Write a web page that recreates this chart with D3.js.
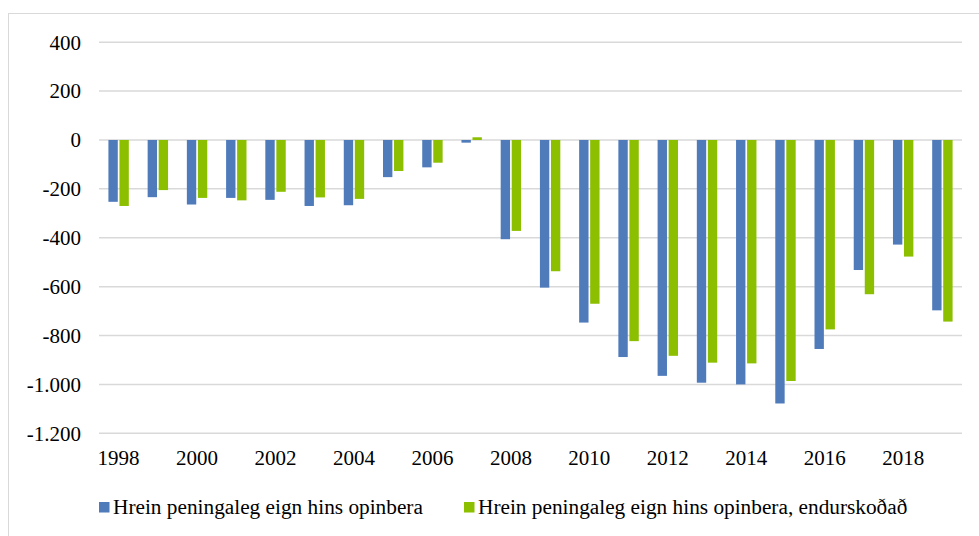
<!DOCTYPE html>
<html>
<head>
<meta charset="utf-8">
<script src="https://cdn.jsdelivr.net/npm/d3@7"></script>
<style>
  body { margin: 0; background: #fff; }
</style>
</head>
<body>
<div id="chart"></div>
<script>
// data
var years = [1998, 1999, 2000, 2001, 2002, 2003, 2004, 2005, 2006, 2007, 2008,
             2009, 2010, 2011, 2012, 2013, 2014, 2015, 2016, 2017, 2018, 2019];
var original = [-253, -234, -264, -237, -245, -270, -267, -152, -112, -11, -406,
                -604, -747, -888, -965, -993, -1000, -1078, -855, -532, -428, -697];
var revised = [-270, -205, -237, -247, -212, -235, -241, -127, -93, 11, -372,
               -537, -670, -823, -883, -911, -914, -986, -775, -631, -477, -743];
var yTicks = [400, 200, 0, -200, -400, -600, -800, -1000, -1200];
var seriesNames = ["Hrein peningaleg eign hins opinbera",
                   "Hrein peningaleg eign hins opinbera, endurskoðað"];
var colors = ["#4f7bbb", "#8cbf00"];

var width = 979, height = 536;
var serif = "'Liberation Serif', 'DejaVu Serif', 'Times New Roman', serif";

var svg = d3.select("#chart")
    .append("svg")
    .attr("width", width)
    .attr("height", height)
    .attr("font-family", serif);

// chart frame
svg.append("rect")
    .attr("x", 8.5)
    .attr("y", 13.5)
    .attr("width", 980)
    .attr("height", 540)
    .attr("fill", "none")
    .attr("stroke", "#d9d9d9");

var x = d3.scaleBand()
    .domain(years)
    .range([99, 962])
    .paddingInner(0.48)
    .paddingOuter(0.24);

var x1 = d3.scaleBand()
    .domain([0, 1])
    .range([0, x.bandwidth()])
    .paddingInner(0.15);

var y = d3.scaleLinear()
    .domain([-1200, 400])
    .range([433.3, 42.2]);

// gridlines
svg.append("g")
    .selectAll("line")
    .data(yTicks)
    .join("line")
    .attr("x1", 99)
    .attr("x2", 962)
    .attr("y1", d => y(d))
    .attr("y2", d => y(d))
    .attr("stroke", "#d9d9d9")
    .attr("stroke-width", 1.5);

// y labels
var fmt = d3.formatLocale({decimal: ",", thousands: ".", grouping: [3], currency: ["", ""], minus: "-"}).format(",d");
svg.append("g")
    .selectAll("text")
    .data(yTicks)
    .join("text")
    .attr("x", 81)
    .attr("y", d => y(d))
    .attr("dy", "0.35em")
    .attr("text-anchor", "end")
    .attr("font-size", 21)
    .attr("fill", "#000")
    .text(d => fmt(d));

// bars
var groups = svg.append("g")
    .selectAll("g")
    .data(years.map((yr, i) => ({year: yr, vals: [original[i], revised[i]]})))
    .join("g")
    .attr("transform", d => "translate(" + x(d.year) + ",0)");

groups.selectAll("rect")
    .data(d => d.vals.map((v, k) => ({k: k, v: v})))
    .join("rect")
    .attr("x", d => x1(d.k))
    .attr("width", x1.bandwidth())
    .attr("y", d => Math.min(y(d.v), y(0)))
    .attr("height", d => Math.abs(y(d.v) - y(0)))
    .attr("fill", d => colors[d.k]);

// x labels, every other year
svg.append("g")
    .selectAll("text")
    .data(years.filter((yr, i) => i % 2 === 0))
    .join("text")
    .attr("x", d => x(d) + x.bandwidth() / 2)
    .attr("y", 465)
    .attr("text-anchor", "middle")
    .attr("font-size", 21)
    .attr("fill", "#000")
    .text(d => d);

// legend
var legendX = [99, 464];
var legend = svg.append("g")
    .selectAll("g")
    .data(seriesNames)
    .join("g")
    .attr("transform", (d, i) => "translate(" + legendX[i] + ",502)");

legend.append("rect")
    .attr("x", 0)
    .attr("y", 0)
    .attr("width", 10.5)
    .attr("height", 10.5)
    .attr("fill", (d, i) => colors[i]);

legend.append("text")
    .attr("x", 14)
    .attr("y", 11.5)
    .attr("font-size", 21.3)
    .attr("fill", "#000")
    .text(d => d);
</script>
</body>
</html>
